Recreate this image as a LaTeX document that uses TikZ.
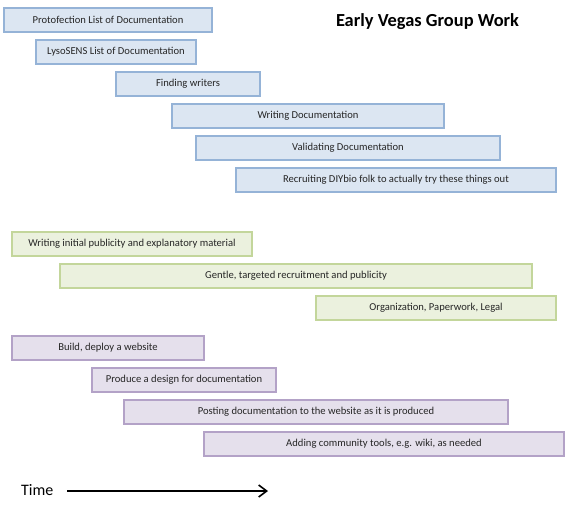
\documentclass[tikz,border=0pt]{standalone}
\usepackage{fontspec}
\setmainfont{Carlito}
\usetikzlibrary{arrows.meta}
\definecolor{bfill}{HTML}{DCE6F2}
\definecolor{bdraw}{HTML}{95B3D7}
\definecolor{gfill}{HTML}{EBF1DE}
\definecolor{gdraw}{HTML}{C3D69B}
\definecolor{pfill}{HTML}{E5E0EC}
\definecolor{pdraw}{HTML}{B3A2C7}
\tikzset{
  task/.style={line width=1.1pt},
  bluetask/.style={task, fill=bfill, draw=bdraw},
  greentask/.style={task, fill=gfill, draw=gdraw},
  purpletask/.style={task, fill=pfill, draw=pdraw},
  tasklabel/.style={font=\fontsize{10.6}{12}\selectfont, text=black!85, inner sep=0pt},
}
\newcommand{\tb}[7]{%
  \draw[#1] (#2,#3) rectangle (#4,#5);
  \node[tasklabel] (#6) at ({(#2+#4)/2},{(#3+#5)/2}) {#7};
}
\begin{document}
\begin{tikzpicture}[x=1pt,y=-1pt]
\useasboundingbox (0,0) rectangle (572,504);
\tb{bluetask}{4}{8}{212}{32}{t1}{Protofection List of Documentation}
\tb{bluetask}{36}{40}{196}{64}{t2}{LysoSENS List of Documentation}
\tb{bluetask}{116}{72}{260}{96}{t3}{Finding writers}
\tb{bluetask}{172}{104}{444}{128}{t4}{Writing Documentation}
\tb{bluetask}{196}{136}{500}{160}{t5}{Validating Documentation}
\tb{bluetask}{236}{168}{556}{192}{t6}{Recruiting DIYbio folk to actually try these things out}
\tb{greentask}{12}{232}{252}{256}{t7}{Writing initial publicity and explanatory material}
\tb{greentask}{60}{264}{532}{288}{t8}{Gentle, targeted recruitment and publicity}
\tb{greentask}{316}{296}{556}{320}{t9}{Organization, Paperwork, Legal}
\tb{purpletask}{12}{336}{204}{360}{t10}{Build, deploy a website}
\tb{purpletask}{92}{368}{276}{392}{t11}{Produce a design for documentation}
\tb{purpletask}{124}{400}{508}{424}{t12}{Posting documentation to the website as it is produced}
\tb{purpletask}{204}{432}{564}{456}{t13}{Adding community tools, e.g. wiki, as needed}
\node[font=\bfseries\fontsize{18.4}{20}\selectfont, inner sep=0pt] (title) at (427.5,22) {Early Vegas Group Work};
\node[font=\fontsize{16}{18}\selectfont, inner sep=0pt, anchor=west] (time) at (21,490) {Time};
\coordinate (tstart) at (67,491);
\coordinate (tend) at (268,491);
\draw[line width=1.6pt, -{Straight Barb[length=8pt,width=12pt]}] (tstart) -- (tend);
\end{tikzpicture}
\end{document}
